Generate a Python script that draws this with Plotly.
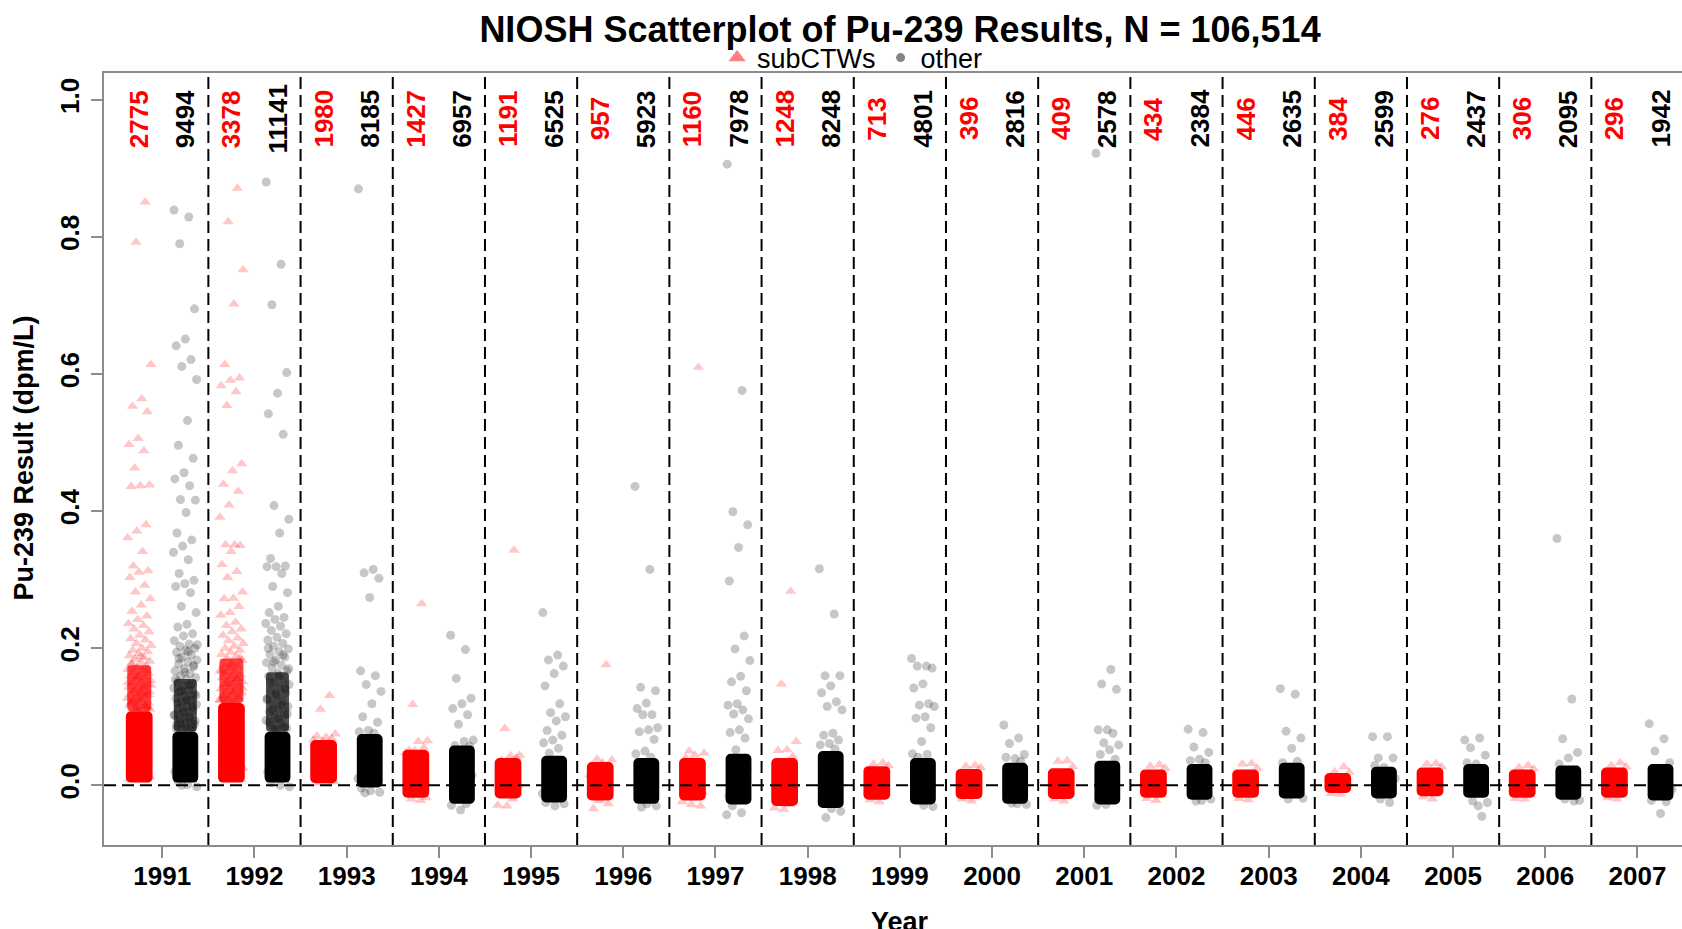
import plotly.graph_objects as go

# counts printed at the top of each year
years = list(range(1991, 2008))
n_sub = [2775, 3378, 1980, 1427, 1191, 957, 1160, 1248, 713, 396, 409, 434, 446, 384, 276, 306, 296]
n_other = [9494, 11141, 8185, 6957, 6525, 5923, 7978, 8248, 4801, 2816, 2578, 2384, 2635, 2599, 2437, 2095, 1942]

# solid (fully overplotted) part of each cloud, dpm/L
sub_core_lo = [0.004, 0.004, 0.003, -0.018, -0.019, -0.022, -0.022, -0.030, -0.021, -0.020, -0.020, -0.018, -0.018, -0.011, -0.016, -0.018, -0.018]
sub_core_hi = [0.108, 0.120, 0.066, 0.052, 0.040, 0.034, 0.040, 0.040, 0.028, 0.024, 0.025, 0.023, 0.023, 0.018, 0.026, 0.023, 0.026]
other_core_lo = [0.004, 0.004, -0.003, -0.027, -0.025, -0.027, -0.028, -0.033, -0.028, -0.027, -0.028, -0.021, -0.019, -0.019, -0.018, -0.021, -0.022]
other_core_hi = [0.078, 0.078, 0.075, 0.058, 0.043, 0.040, 0.046, 0.050, 0.040, 0.033, 0.036, 0.031, 0.033, 0.027, 0.031, 0.029, 0.031]
# heavily (but not fully) overplotted band above the core
sub_mid_hi = [0.175, 0.185, 0.066, 0.052, 0.040, 0.034, 0.040, 0.040, 0.028, 0.024, 0.025, 0.023, 0.023, 0.018, 0.026, 0.023, 0.026]
other_mid_hi = [0.155, 0.165, 0.075, 0.058, 0.043, 0.040, 0.046, 0.050, 0.040, 0.033, 0.036, 0.031, 0.033, 0.027, 0.031, 0.029, 0.031]

# individual results visible outside the solid part
sub_1991 = [0.851, 0.792, 0.614, 0.564, 0.553, 0.545, 0.506, 0.497, 0.488, 0.463, 0.438, 0.437, 0.436,
            0.380, 0.371, 0.361, 0.341, 0.320, 0.313, 0.311, 0.303, 0.292, 0.282, 0.272, 0.263, 0.254,
            0.247, 0.242, 0.236, 0.233, 0.228, 0.224, 0.219, 0.214, 0.212, 0.207, 0.204, 0.200, 0.197,
            0.195, 0.192, 0.189, 0.186, 0.184, 0.181, 0.179, 0.176, 0.174, 0.172, 0.169, 0.167, 0.165,
            0.163, 0.161, 0.159, 0.157, 0.155, 0.153, 0.151, 0.149, 0.147, 0.145, 0.143, 0.141, 0.139,
            0.137, 0.135, 0.133, 0.131, 0.129, 0.127, 0.125, 0.123, 0.121, 0.119, 0.117, 0.115, 0.113,
            0.111, 0.188, 0.178, 0.168, 0.158, 0.150, 0.144, 0.138, 0.132, 0.126, 0.120, 0.116, 0.112,
            0.146, 0.134, 0.122, 0.114, 0.110, 0.009, 0.010, 0.008, 0.012, 0.060, 0.040, 0.085, 0.025]
sub_1992 = [0.871, 0.822, 0.752, 0.702, 0.614, 0.594, 0.591, 0.583, 0.574, 0.554, 0.469, 0.459, 0.439,
            0.429, 0.409, 0.391, 0.351, 0.351, 0.350, 0.341, 0.322, 0.312, 0.303, 0.282, 0.273, 0.272,
            0.261, 0.252, 0.248, 0.238, 0.233, 0.228, 0.224, 0.219, 0.215, 0.211, 0.207, 0.203, 0.200,
            0.197, 0.194, 0.191, 0.188, 0.185, 0.182, 0.179, 0.176, 0.173, 0.171, 0.168, 0.166, 0.164,
            0.161, 0.159, 0.157, 0.155, 0.153, 0.151, 0.149, 0.147, 0.145, 0.143, 0.141, 0.139, 0.137,
            0.135, 0.133, 0.131, 0.129, 0.127, 0.125, 0.123, 0.121, 0.186, 0.176, 0.166, 0.156, 0.148,
            0.142, 0.136, 0.130, 0.126, 0.122, 0.124, 0.009, 0.010, 0.008, 0.012, 0.070, 0.045, 0.095, 0.025]
sub_1993 = [0.131, 0.111, 0.075, 0.070, 0.072, 0.068, 0.064, 0.066, 0.005, 0.003, 0.006, 0.035, 0.020, 0.050]
sub_1994 = [0.265, 0.118, 0.065, 0.064, 0.051, 0.055, 0.050, 0.048, -0.022, -0.020, -0.018, 0.030, 0.000, 0.015]
sub_1995 = [0.343, 0.083, 0.044, 0.043, 0.037, 0.040, -0.030, -0.029, -0.020, 0.020, 0.000, -0.010]
sub_1996 = [0.176, 0.038, 0.037, 0.033, -0.034, -0.027, -0.022, 0.015, 0.000, -0.010]
sub_1997 = [0.610, 0.050, 0.047, 0.044, 0.040, -0.030, -0.028, -0.024, 0.020, 0.000, -0.010]
sub_1998 = [0.283, 0.148, 0.064, 0.052, 0.051, 0.042, -0.035, -0.033, -0.028, 0.020, 0.000, -0.015]
sub_1999 = [0.033, 0.031, 0.029, -0.024, -0.021, 0.010, -0.005]
sub_2000 = [0.029, 0.028, 0.026, -0.023, -0.020, 0.010, -0.005]
sub_2001 = [0.036, 0.035, 0.027, -0.023, -0.020, 0.010, -0.005]
sub_2002 = [0.030, 0.028, 0.025, -0.022, -0.019, 0.010, -0.005]
sub_2003 = [0.032, 0.031, 0.025, -0.021, -0.019, 0.010, -0.005]
sub_2004 = [0.027, 0.020, 0.019, -0.013, -0.012, 0.005]
sub_2005 = [0.032, 0.031, 0.027, -0.020, -0.017, 0.010, -0.005]
sub_2006 = [0.029, 0.026, 0.024, -0.020, -0.019, 0.010, -0.005]
sub_2007 = [0.033, 0.029, 0.027, -0.020, -0.018, 0.010, -0.005]

other_1991 = [0.839, 0.829, 0.790, 0.695, 0.651, 0.641, 0.621, 0.611, 0.592, 0.532, 0.496, 0.477, 0.456,
              0.447, 0.437, 0.417, 0.416, 0.398, 0.368, 0.358, 0.349, 0.340, 0.329, 0.309, 0.299, 0.294,
              0.290, 0.281, 0.261, 0.252, 0.235, 0.231, 0.221, 0.218, 0.211, 0.206, 0.203, 0.200, 0.197,
              0.194, 0.190, 0.187, 0.183, 0.180, 0.177, 0.173, 0.170, 0.167, 0.163, 0.160, 0.157, 0.154,
              0.151, 0.148, 0.145, 0.142, 0.139, 0.136, 0.133, 0.130, 0.127, 0.124, 0.121, 0.118, 0.115,
              0.112, 0.109, 0.106, 0.103, 0.100, 0.097, 0.094, 0.091, 0.088, 0.085, 0.082, 0.205, 0.195,
              0.185, 0.175, 0.165, 0.155, 0.146, 0.138, 0.131, 0.125, 0.120, 0.114, 0.108, 0.102, 0.098,
              0.093, 0.089, 0.086, 0.083, 0.080, 0.000, -0.002, 0.001, 0.005, 0.060, 0.040, 0.020]
other_1992 = [0.880, 0.760, 0.701, 0.602, 0.572, 0.542, 0.512, 0.408, 0.388, 0.368, 0.331, 0.320, 0.319,
              0.319, 0.309, 0.290, 0.281, 0.261, 0.252, 0.245, 0.242, 0.236, 0.232, 0.226, 0.221, 0.216,
              0.212, 0.207, 0.203, 0.199, 0.195, 0.191, 0.187, 0.183, 0.179, 0.175, 0.171, 0.167, 0.163,
              0.159, 0.155, 0.151, 0.147, 0.143, 0.139, 0.135, 0.131, 0.127, 0.123, 0.119, 0.115, 0.111,
              0.107, 0.103, 0.099, 0.095, 0.091, 0.087, 0.083, 0.080, 0.200, 0.190, 0.180, 0.170, 0.160,
              0.150, 0.141, 0.133, 0.125, 0.117, 0.110, 0.104, 0.097, 0.092, 0.086, 0.082, -0.002, 0.000,
              0.004, 0.060, 0.040, 0.020]
other_1993 = [0.870, 0.315, 0.310, 0.302, 0.274, 0.167, 0.160, 0.147, 0.137, 0.119, 0.100, 0.092, 0.080,
              0.078, 0.076, -0.011, -0.010, -0.008, -0.004, 0.050, 0.030, 0.010]
other_1994 = [0.219, 0.198, 0.156, 0.127, 0.119, 0.112, 0.103, 0.089, 0.066, 0.064, 0.058, 0.057,
              -0.036, -0.029, -0.027, 0.040, 0.015, -0.010]
other_1995 = [0.252, 0.190, 0.183, 0.174, 0.163, 0.145, 0.119, 0.106, 0.100, 0.094, 0.080, 0.073, 0.066,
              0.062, 0.054, 0.047, -0.027, -0.030, -0.025, 0.025, 0.005, -0.012]
other_1996 = [0.436, 0.315, 0.143, 0.138, 0.120, 0.112, 0.103, 0.103, 0.084, 0.081, 0.078, 0.067, 0.050,
              0.046, 0.041, -0.032, -0.030, -0.027, 0.020, 0.003, -0.015]
other_1997 = [0.906, 0.576, 0.399, 0.380, 0.347, 0.298, 0.218, 0.199, 0.182, 0.159, 0.151, 0.138, 0.119,
              0.117, 0.110, 0.104, 0.097, 0.081, 0.077, 0.069, 0.052, -0.043, -0.040, -0.030, 0.025,
              0.005, -0.015]
other_1998 = [0.316, 0.250, 0.160, 0.160, 0.145, 0.135, 0.122, 0.115, 0.110, 0.076, 0.073, 0.066, 0.061,
              0.059, 0.053, -0.047, -0.038, -0.034, 0.030, 0.008, -0.015]
other_1999 = [0.185, 0.174, 0.174, 0.171, 0.148, 0.142, 0.119, 0.117, 0.115, 0.100, 0.098, 0.084, 0.064,
              0.046, 0.045, 0.041, -0.031, -0.029, 0.020, 0.003, -0.012]
other_2000 = [0.088, 0.069, 0.061, 0.045, 0.039, 0.041, 0.035, -0.026, -0.028, -0.027, 0.015, -0.010]
other_2001 = [0.922, 0.169, 0.148, 0.140, 0.081, 0.081, 0.076, 0.062, 0.059, 0.052, 0.045, 0.038,
              -0.028, -0.029, 0.015, -0.010]
other_2002 = [0.082, 0.077, 0.056, 0.048, 0.038, 0.036, 0.033, -0.023, -0.020, -0.022, 0.012, -0.008]
other_2003 = [0.141, 0.133, 0.079, 0.069, 0.054, 0.033, 0.035, -0.020, -0.019, 0.012, -0.006]
other_2004 = [0.071, 0.071, 0.040, 0.040, 0.026, 0.029, -0.025, -0.020, 0.010, -0.006]
other_2005 = [0.066, 0.069, 0.055, 0.044, 0.031, 0.033, -0.045, -0.023, -0.025, -0.030, 0.012, -0.006]
other_2006 = [0.360, 0.126, 0.068, 0.048, 0.040, 0.031, -0.023, -0.020, -0.022, 0.010, -0.008]
other_2007 = [0.090, 0.068, 0.050, 0.033, -0.041, -0.022, -0.024, 0.012, -0.006]

sub_pts = [sub_1991, sub_1992, sub_1993, sub_1994, sub_1995, sub_1996, sub_1997, sub_1998, sub_1999,
           sub_2000, sub_2001, sub_2002, sub_2003, sub_2004, sub_2005, sub_2006, sub_2007]
other_pts = [other_1991, other_1992, other_1993, other_1994, other_1995, other_1996, other_1997, other_1998,
             other_1999, other_2000, other_2001, other_2002, other_2003, other_2004, other_2005, other_2006,
             other_2007]

FONT = "Liberation Sans, Arial, sans-serif"
SUB_OFF = -0.25   # subCTWs sit left of the year tick
OTHER_OFF = 0.25  # other results right of it
JIT = 0.26        # total width of the horizontal jitter (years)


def spread(n, shift):
    # even, repeatable horizontal spread instead of random jitter
    return [(((k + 1) * 0.6180339887 + shift) % 1.0 - 0.5) * JIT for k in range(n)]


def cloud(pts, off, shift):
    xs, ys = [], []
    for yr, vals in zip(years, pts):
        for dx, v in zip(spread(len(vals), shift), vals):
            xs.append(yr + off + dx)
            ys.append(v)
    return xs, ys


def band(off, lo, hi, width, color, radius=0):
    return go.Bar(x=[y + off for y in years], base=lo, y=[h - l for h, l in zip(hi, lo)],
                  width=width, marker=dict(color=color, line_width=0, cornerradius=radius),
                  showlegend=False, hoverinfo="skip")


fig = go.Figure()

# overplotted cores
fig.add_trace(band(SUB_OFF, sub_core_lo, sub_core_hi, 0.29, "rgb(255,0,0)", 5))
fig.add_trace(band(OTHER_OFF, other_core_lo, other_core_hi, 0.28, "rgb(0,0,0)", 5))
fig.add_trace(band(SUB_OFF, sub_core_hi, sub_mid_hi, 0.26, "rgba(255,0,0,0.72)", 4))
fig.add_trace(band(OTHER_OFF, other_core_hi, other_mid_hi, 0.25, "rgba(0,0,0,0.68)", 4))

sx, sy = cloud(sub_pts, SUB_OFF, 0.13)
ox, oy = cloud(other_pts, OTHER_OFF, 0.41)
fig.add_trace(go.Scatter(x=sx, y=sy, mode="markers", showlegend=False, hoverinfo="skip",
                         marker=dict(symbol="triangle-up", size=10, color="rgba(255,0,0,0.22)",
                                     line_width=0)))
fig.add_trace(go.Scatter(x=ox, y=oy, mode="markers", showlegend=False, hoverinfo="skip",
                         marker=dict(symbol="circle", size=9, color="rgba(0,0,0,0.22)", line_width=0)))

# legend entries
fig.add_trace(go.Scatter(x=[None], y=[None], mode="markers", name="subCTWs",
                         marker=dict(symbol="triangle-up", size=15, color="#ff8080", line_width=0)))
fig.add_trace(go.Scatter(x=[None], y=[None], mode="markers", name="other",
                         marker=dict(symbol="circle", size=9, color="#858585", line_width=0)))

# year separators and the zero line
for yr in years[:-1]:
    fig.add_shape(type="line", xref="x", yref="paper", x0=yr + 0.5, x1=yr + 0.5, y0=0, y1=1,
                  line=dict(color="black", width=2, dash="12px,6px"), layer="above")
fig.add_shape(type="line", xref="paper", yref="y", x0=0, x1=1, y0=0, y1=0,
              line=dict(color="black", width=2, dash="12px,6px"), layer="above")

# counts
for yr, a, b in zip(years, n_sub, n_other):
    fig.add_annotation(x=yr + SUB_OFF, y=0.972, text=str(a), showarrow=False, textangle=-90,
                       font=dict(family=FONT, size=26, color="red", weight="bold"))
    fig.add_annotation(x=yr + OTHER_OFF, y=0.972, text=str(b), showarrow=False, textangle=-90,
                       font=dict(family=FONT, size=26, color="black", weight="bold"))

# axis titles
fig.add_annotation(xref="paper", yref="paper", x=0.5044, y=-0.1003, text="Year", showarrow=False,
                   yanchor="middle", font=dict(family=FONT, size=27, color="black", weight="bold"))
fig.add_annotation(xref="paper", yref="paper", x=-0.0505, y=0.501, text="Pu-239 Result (dpm/L)",
                   showarrow=False, textangle=-90, xanchor="center",
                   font=dict(family=FONT, size=27, color="black", weight="bold"))

axis_line = "rgb(140,140,140)"
fig.update_layout(
    width=1682, height=929,
    margin=dict(l=104, r=0, t=73, b=84),
    paper_bgcolor="white", plot_bgcolor="white",
    barmode="overlay",
    font=dict(family=FONT, color="black"),
    title=dict(text="NIOSH Scatterplot of Pu-239 Results, N = 106,514", x=0.5351, xanchor="center",
               y=1 - 29 / 929, yanchor="middle",
               font=dict(family=FONT, size=36, color="black", weight="bold")),
    legend=dict(orientation="h", x=0.3885, xanchor="left", y=1.0194, yanchor="middle",
                font=dict(family=FONT, size=27, color="black"), bgcolor="rgba(0,0,0,0)",
                itemclick=False, tracegroupgap=0),
    xaxis=dict(range=[1990.368, 2007.483], tickvals=years, ticktext=[str(y) for y in years],
               showgrid=False, zeroline=False, showline=True, linecolor=axis_line, linewidth=1.5,
               mirror=True, ticks="outside", ticklen=11, tickwidth=1.5, tickcolor=axis_line,
               ticklabelstandoff=-4,
               tickfont=dict(family=FONT, size=26, color="black", weight="bold")),
    yaxis=dict(range=[-0.087, 1.039], tickvals=[0, 0.2, 0.4, 0.6, 0.8, 1.0],
               ticktext=["0.0", "0.2", "0.4", "0.6", "0.8", "1.0"], tickangle=-90,
               showgrid=False, zeroline=False, showline=True, linecolor=axis_line, linewidth=1.5,
               ticks="outside", ticklen=11, tickwidth=1.5, tickcolor=axis_line,
               ticklabelstandoff=2,
               tickfont=dict(family=FONT, size=26, color="black", weight="bold")),
)

# the page must not add its default 8px body margin around the figure
fig.write_html("out.html", config={"displayModeBar": False},
               post_script="document.body.style.margin='0';document.body.style.overflow='hidden';")
